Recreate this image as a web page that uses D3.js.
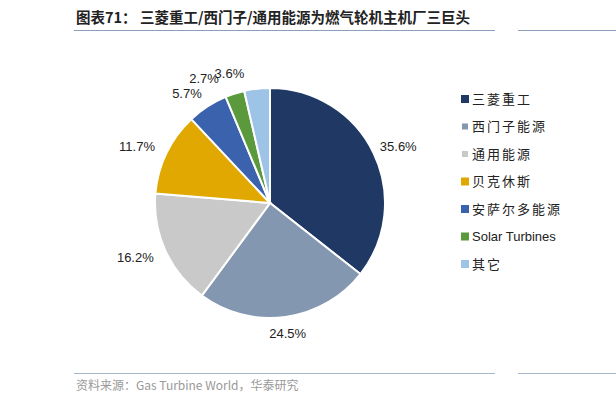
<!DOCTYPE html><html><head><meta charset="utf-8"><script src="https://cdn.jsdelivr.net/npm/d3@7"></script>
<style>body{margin:0;background:#fff}</style></head><body><svg id="c" width="616" height="403"></svg>
<script>
const categories=["三菱重工","西门子能源","通用能源","贝克休斯","安萨尔多能源","Solar Turbines","其它"];
const values=[35.6,24.5,16.2,11.7,5.7,2.7,3.6];
const colors=["#1f3864","#8497b0","#c9c9c9","#e0a800","#3a62ad","#5b9a3c","#9dc3e6"];
const svg=d3.select("#c");
const cjk="'Noto Sans CJK SC',sans-serif";
svg.append("text").attr("x",76).attr("y",23).attr("font-family",cjk).attr("font-size",14.5).attr("font-weight","bold").attr("fill","#222").text("图表71：  三菱重工/西门子/通用能源为燃气轮机主机厂三巨头");
svg.append("line").attr("x1",74).attr("x2",495).attr("y1",30.5).attr("y2",30.5).attr("stroke","#8aa0bb").attr("stroke-width",1);
svg.append("line").attr("x1",518).attr("x2",616).attr("y1",30.5).attr("y2",30.5).attr("stroke","#8aa0bb").attr("stroke-width",1);
svg.append("line").attr("x1",74).attr("x2",495).attr("y1",373.5).attr("y2",373.5).attr("stroke","#a8b8cc").attr("stroke-width",1);
svg.append("line").attr("x1",518).attr("x2",616).attr("y1",373.5).attr("y2",373.5).attr("stroke","#a8b8cc").attr("stroke-width",1);
svg.append("text").attr("x",76).attr("y",390).attr("font-family",cjk).attr("font-size",12).attr("fill","#999").text("资料来源：Gas Turbine World，华泰研究");
const cx=270,cy=203,r=115;
const pie=d3.pie().sort(null).value(d=>d)(values);
const arc=d3.arc().innerRadius(0).outerRadius(r);
const g=svg.append("g").attr("transform",`translate(${cx},${cy})`);
g.selectAll("path").data(pie).join("path").attr("d",arc).attr("fill",(d,i)=>colors[i]).attr("stroke","#fff").attr("stroke-width",2);
const la=d3.arc().innerRadius(r+16).outerRadius(r+16);
g.selectAll("text").data(pie).join("text").each(function(d){
 const [x,y]=la.centroid(d);const t=d3.select(this);
 const mid=Math.abs(x)<60;
 let anchor,dx;
 if(mid&&x<-10){anchor="end";dx=-11;}
 else if(mid){anchor="middle";dx=0;}
 else if(x>0){anchor="start";dx=-8;}
 else {anchor="end";dx=3;}
 t.attr("x",x).attr("y",y+5).attr("text-anchor",anchor).attr("dx",dx)
 .attr("font-family","Arial,'Liberation Sans',sans-serif").attr("font-size",13).attr("fill","#222").text(d.data.toFixed(1)+"%");
});
const lg=svg.append("g").attr("transform","translate(461,99)");
categories.forEach((c,i)=>{
 const y=i*27.5, small=(i==1||i==2);
 lg.append("rect").attr("x",small?1:0).attr("y",y-4+(small?1:0)).attr("width",small?6:8).attr("height",small?6:8).attr("fill",colors[i]);
 lg.append("text").attr("x",11).attr("y",y+4.5).attr("font-family",i==5?"Arial,'Liberation Sans',sans-serif":cjk).attr("font-size",13).attr("letter-spacing",i==5?0:2).attr("fill","#222").text(c);
});
</script></body></html>
